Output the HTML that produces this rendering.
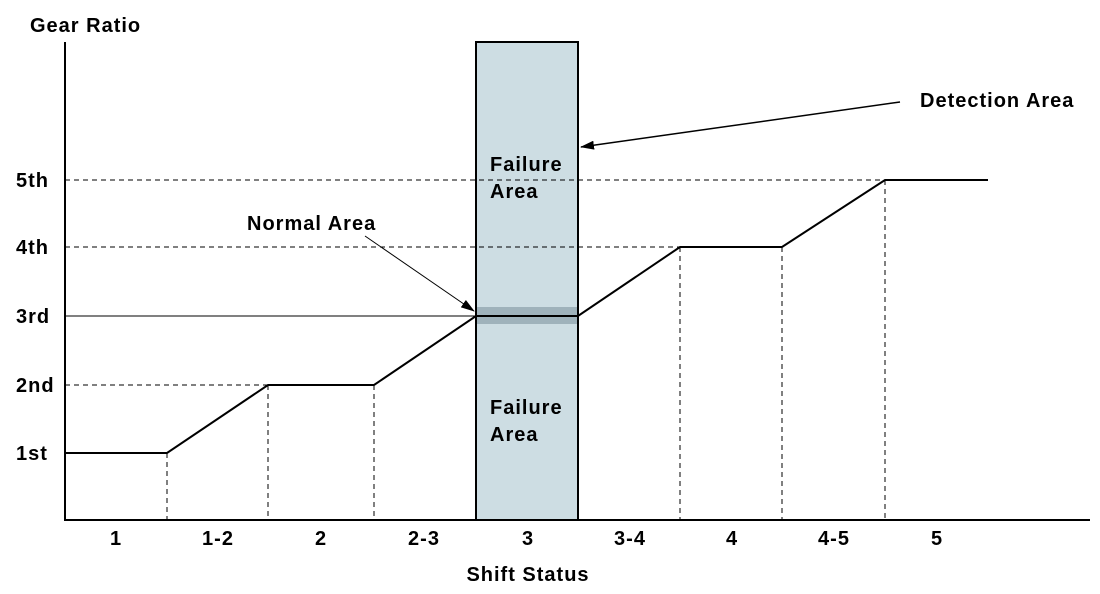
<!DOCTYPE html>
<html><head><meta charset="utf-8"><style>
html,body{margin:0;padding:0;background:#fff;}
svg{display:block;}
text{font-family:"Liberation Sans",Arial,sans-serif;font-weight:bold;font-size:20px;letter-spacing:1px;fill:#000;}
</style></head><body>
<svg width="1100" height="594" viewBox="0 0 1100 594" xmlns="http://www.w3.org/2000/svg">
<defs><marker id="ah" markerWidth="14" markerHeight="9" refX="13" refY="4.5" orient="auto" markerUnits="userSpaceOnUse"><path d="M0,0 L14,4.5 L0,9 Z" fill="#000"/></marker></defs>
<rect x="476" y="42" width="102" height="478" fill="#cddde3" stroke="#000" stroke-width="2"/>
<rect x="477" y="307" width="100" height="17" fill="#9fb2bb"/>
<g stroke="#000" stroke-width="1" stroke-dasharray="5,4" fill="none">
<line x1="65" y1="180" x2="885" y2="180"/>
<line x1="65" y1="247" x2="680" y2="247"/>
<line x1="65" y1="385" x2="268" y2="385"/>
<line x1="167" y1="453" x2="167" y2="520"/>
<line x1="268" y1="385" x2="268" y2="520"/>
<line x1="374" y1="385" x2="374" y2="520"/>
<line x1="680" y1="247" x2="680" y2="520"/>
<line x1="782" y1="247" x2="782" y2="520"/>
<line x1="885" y1="180" x2="885" y2="520"/>
</g>
<line x1="65" y1="316" x2="476" y2="316" stroke="#000" stroke-width="1"/>
<polyline points="65,453 167,453 268,385 374,385 476,316 578,316 680,247 782,247 885,180 988,180" fill="none" stroke="#000" stroke-width="2"/>
<line x1="65" y1="42" x2="65" y2="521" stroke="#000" stroke-width="2"/>
<line x1="64" y1="520" x2="1090" y2="520" stroke="#000" stroke-width="2"/>
<line x1="365" y1="236" x2="474" y2="311" stroke="#000" stroke-width="1" marker-end="url(#ah)"/>
<line x1="900" y1="102" x2="581" y2="147" stroke="#000" stroke-width="1.5" marker-end="url(#ah)"/>
<text x="30" y="32">Gear Ratio</text>
<text x="16" y="187">5th</text>
<text x="16" y="254">4th</text>
<text x="16" y="323">3rd</text>
<text x="16" y="392">2nd</text>
<text x="16" y="460">1st</text>
<g text-anchor="middle">
<text x="116" y="545">1</text><text x="218" y="545">1-2</text><text x="321" y="545">2</text>
<text x="424" y="545">2-3</text><text x="528" y="545">3</text><text x="630" y="545">3-4</text>
<text x="732" y="545">4</text><text x="834" y="545">4-5</text><text x="937" y="545">5</text>
<text x="528" y="581">Shift Status</text>
</g>
<text x="490" y="171">Failure</text><text x="490" y="198">Area</text>
<text x="490" y="414">Failure</text><text x="490" y="441">Area</text>
<text x="247" y="230">Normal Area</text>
<text x="920" y="107">Detection Area</text>
</svg>
</body></html>
